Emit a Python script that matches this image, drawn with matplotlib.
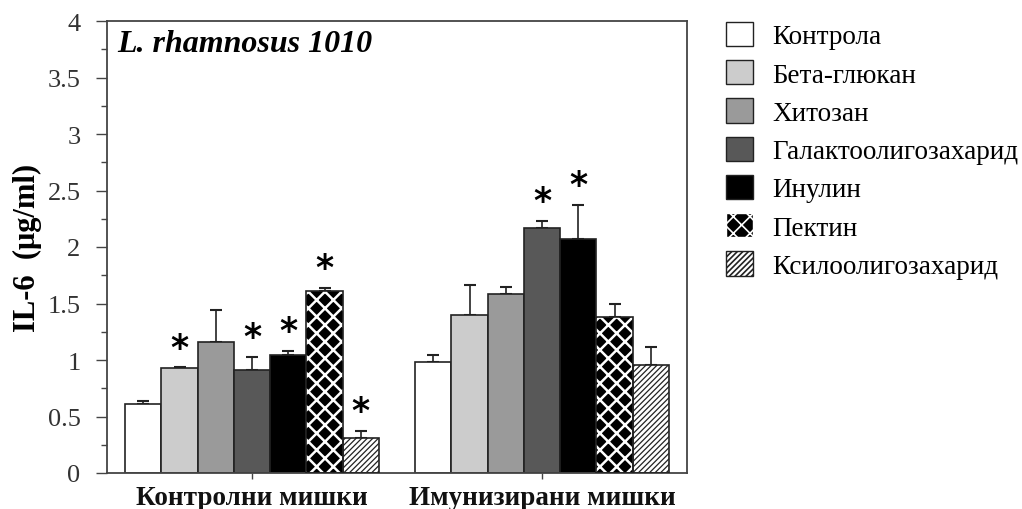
import matplotlib
matplotlib.use("Agg")
import matplotlib.pyplot as plt
import numpy as np
from matplotlib.patches import Patch
from matplotlib.ticker import MultipleLocator

plt.rcParams['font.family'] = ['Liberation Serif', 'DejaVu Serif']
plt.rcParams['hatch.linewidth'] = 1.6

groups = ['Контролни мишки', 'Имунизирани мишки']
series = ['Контрола', 'Бета-глюкан', 'Хитозан', 'Галактоолигозахарид',
          'Инулин', 'Пектин', 'Ксилоолигозахарид']
values = [
    [0.61, 0.98],
    [0.93, 1.40],
    [1.16, 1.58],
    [0.91, 2.17],
    [1.04, 2.07],
    [1.61, 1.38],
    [0.31, 0.955],
]
errors = [
    [0.03, 0.06],
    [0.005, 0.26],
    [0.28, 0.065],
    [0.12, 0.06],
    [0.04, 0.30],
    [0.03, 0.12],
    [0.06, 0.16],
]
significant = [
    [False, False],
    [True, False],
    [False, False],
    [True, True],
    [True, True],
    [True, False],
    [True, False],
]
colors = ['#ffffff', '#cccccc', '#9a9a9a', '#585858', '#000000', '#000000', '#ffffff']
hatches = [None, None, None, None, None, 'xx', '//////']
hatch_colors = [None, None, None, None, None, '#ffffff', '#222222']
hatch_lw = [None, None, None, None, None, 1.8, 0.9]

fig = plt.figure(figsize=(10.22, 5.10), dpi=100)
ax = fig.add_axes([107/1022, 36/510, 580/1022, 452/510])

x = np.arange(len(groups))
w = 0.125
n = len(series)
for i in range(n):
    pos = x + (i - (n - 1) / 2) * w
    if hatches[i] is not None:
        plt.rcParams['hatch.linewidth'] = hatch_lw[i]
        bars = ax.bar(pos, values[i], w, color=colors[i], edgecolor=hatch_colors[i],
                      hatch=hatches[i], linewidth=0, zorder=2)
        for b in bars:
            if hasattr(b, 'set_hatch_linewidth'):
                b.set_hatch_linewidth(hatch_lw[i])
        ax.bar(pos, values[i], w, fill=False, edgecolor='#222222', linewidth=1.2, zorder=3)
    else:
        ax.bar(pos, values[i], w, color=colors[i], edgecolor='#222222', linewidth=1.2, zorder=2)
    ax.errorbar(pos, values[i], yerr=[np.zeros(len(groups)), errors[i]], fmt='none',
                ecolor='#222222', elinewidth=1.2, capsize=4, capthick=1.5, zorder=1)
    for j in range(len(groups)):
        if significant[i][j]:
            ax.annotate('*', (pos[j], values[i][j] + errors[i][j]), xytext=(0, 2),
                        textcoords='offset points', ha='center', va='bottom',
                        fontsize=25, fontweight='bold', family='DejaVu Sans')

ax.set_xlim(-0.5, 1.5)
ax.set_ylim(0, 4)
ax.yaxis.set_minor_locator(MultipleLocator(0.25))
ax.set_yticks(np.arange(0, 4.01, 0.5))
ax.set_yticklabels(['0', '0.5', '1', '1.5', '2', '2.5', '3', '3.5', '4'])
ax.tick_params(axis='y', which='major', length=8, width=1, labelsize=19, colors='#444444',
               labelcolor='#333333', pad=11)
ax.tick_params(axis='y', which='minor', length=4, width=1, colors='#444444')
ax.set_xticks(x)
ax.set_xticklabels(groups, fontsize=19.5, fontweight='bold')
ax.tick_params(axis='x', length=4, width=1, colors='#444444', labelcolor='#111111', pad=5)
for s in ax.spines.values():
    s.set_color('#444444')
    s.set_linewidth(1.3)

ax.set_ylabel('IL-6  (μg/ml)', fontsize=22, fontweight='bold', labelpad=4)
ax.text(0.018, 0.95, 'L. rhamnosus 1010', transform=ax.transAxes, fontsize=23,
        fontweight='bold', style='italic', ha='left', va='center')

handles = []
for i in range(n):
    if hatches[i] is not None:
        handles.append(Patch(facecolor=colors[i], edgecolor=hatch_colors[i] if i == 5 else '#222222',
                             hatch=hatches[i], linewidth=1.0))
    else:
        handles.append(Patch(facecolor=colors[i], edgecolor='#222222', linewidth=1.0))
plt.rcParams['hatch.linewidth'] = 1.2
fig.legend(handles, series, loc='upper left', bbox_to_anchor=(726/1022, 1 - 23/510),
           frameon=False, fontsize=19.5, handlelength=1.0, handleheight=1.0,
           labelspacing=0.4, handletextpad=0.7, borderpad=0, borderaxespad=0)

fig.savefig('out.png', dpi=100)
